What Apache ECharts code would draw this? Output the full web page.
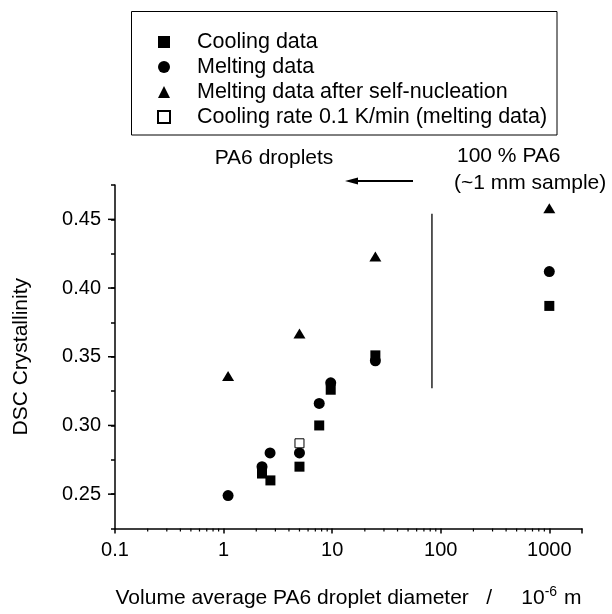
<!DOCTYPE html>
<html>
<head>
<meta charset="utf-8">
<script src="https://cdn.jsdelivr.net/npm/echarts@6/dist/echarts.min.js"></script>
<style>
html,body{margin:0;padding:0;background:#fff}
#chartDiv{width:612px;height:614px}
</style>
</head>
<body>
<div id="chartDiv"></div>
<script>
// data (diameter in 10^-6 m, DSC crystallinity)
var coolingX = [2.26, 2.7, 5, 7.6, 9.7, 25, 1000];
var coolingY = [0.265, 0.260, 0.270, 0.300, 0.326, 0.351, 0.387];
var meltingX = [1.1, 2.26, 2.68, 5, 7.6, 9.7, 25, 1000];
var meltingY = [0.249, 0.270, 0.280, 0.280, 0.316, 0.331, 0.347, 0.412];
var selfNucX = [1.1, 5, 25, 1000];
var selfNucY = [0.336, 0.367, 0.423, 0.458];
var slowX = [5];
var slowY = [0.287];
// vertical divider between droplets and bulk sample
var dividerX = [83, 83];
var dividerY = [0.327, 0.454];

var seriesNames = ['Cooling data', 'Melting data', 'Melting data after self-nucleation', 'Cooling rate 0.1 K/min (melting data)'];
var xMin = 0.1, xMax = 2000;
var yMin = 0.225, yMax = 0.475;
var xMinorTicks = [0.2,0.3,0.4,0.5,0.6,0.7,0.8,0.9, 2,3,4,5,6,7,8,9, 20,30,40,50,60,70,80,90, 200,300,400,500,600,700,800,900];
var yMajorTicks = [0.25, 0.30, 0.35, 0.40, 0.45];

var FONT = '"Liberation Sans", Arial, Helvetica, sans-serif';

function pairs(xs, ys){
	var out = [];
	for(var i = 0; i < xs.length; i++){ out.push([xs[i], ys[i]]); }
	return out;
}

var option = {
	animation: false,
	backgroundColor: '#fff',
	grid: {left: 115, right: 30, top: 185, bottom: 74},
	legend: {
		orient: 'vertical',
		left: 157,
		top: 31,
		padding: 0,
		itemGap: 3,
		itemWidth: 12,
		itemHeight: 12,
		selectedMode: false,
		textStyle: {fontSize: 21.5, color: '#000', fontFamily: FONT, padding: [0,0,0,22], lineHeight: 20},
		data: seriesNames
	},
	xAxis: {
		type: 'log',
		logBase: 10,
		min: xMin,
		max: xMax,
		splitLine: {show: false},
		axisLine: {lineStyle: {color: '#000', width: 1.5}},
		axisTick: {length: 5, lineStyle: {color: '#000', width: 1.5}},
		axisLabel: {
			color: '#000', fontSize: 20, fontFamily: FONT, margin: 12,
			formatter: function(v){
				var l = Math.log(v) / Math.LN10;
				if(Math.abs(l - Math.round(l)) > 1e-6) return '';
				return String(Math.round(v * 10) / 10);
			}
		},
		name: 'Volume average PA6 droplet diameter   /     10{sup|-6} m',
		nameLocation: 'middle',
		nameGap: 57,
		nameTextStyle: {
			color: '#000', fontSize: 21, fontFamily: FONT,
			rich: {sup: {fontSize: 14, fontFamily: FONT, color: '#000', padding: [0,1,12,0]}}
		}
	},
	yAxis: {
		type: 'value',
		min: yMin,
		max: yMax,
		interval: 0.025,
		splitLine: {show: false},
		axisLine: {lineStyle: {color: '#000', width: 1.5}},
		axisTick: {length: 4, lineStyle: {color: '#000', width: 1.5}},
		axisLabel: {
			color: '#000', fontSize: 20, fontFamily: FONT, margin: 14,
			formatter: function(v){
				if(Math.round(v * 1000) % 50 !== 0) return '';
				return v.toFixed(2);
			}
		},
		name: 'DSC Crystallinity',
		nameLocation: 'middle',
		nameGap: 83,
		nameTextStyle: {color: '#000', fontSize: 21, fontFamily: FONT}
	},
	series: [
		{
			name: seriesNames[0], type: 'scatter', symbol: 'rect', symbolSize: 10,
			itemStyle: {color: '#000', opacity: 1}, data: pairs(coolingX, coolingY), z: 3
		},
		{
			name: seriesNames[1], type: 'scatter', symbol: 'circle', symbolSize: 11,
			itemStyle: {color: '#000', opacity: 1}, data: pairs(meltingX, meltingY), z: 2
		},
		{
			name: seriesNames[2], type: 'scatter', symbol: 'triangle', symbolSize: [12, 10],
			itemStyle: {color: '#000', opacity: 1}, data: pairs(selfNucX, selfNucY)
		},
		{
			name: seriesNames[3], type: 'scatter', symbol: 'rect', symbolSize: 9,
			itemStyle: {color: '#fff', borderColor: '#000', borderWidth: 1, opacity: 1}, data: pairs(slowX, slowY), z: 4
		},
		{
			name: 'divider', type: 'line', symbol: 'none', silent: true,
			lineStyle: {color: '#000', width: 1.3}, data: pairs(dividerX, dividerY)
		},
		{
			// minor ticks of the log axis (2..9 of each decade)
			name: 'xMinor', type: 'custom', silent: true,
			data: xMinorTicks.map(function(v){ return [v, yMin]; }),
			renderItem: function(params, api){
				var p = api.coord([api.value(0), api.value(1)]);
				return {type: 'line', shape: {x1: p[0], y1: p[1], x2: p[0], y2: p[1] + 3},
					style: {stroke: '#000', lineWidth: 1.2}};
			}
		},
		{
			// longer ticks at labelled values of the y axis
			name: 'yMajor', type: 'custom', silent: true,
			data: yMajorTicks.map(function(v){ return [xMin, v]; }),
			renderItem: function(params, api){
				var p = api.coord([api.value(0), api.value(1)]);
				return {type: 'line', shape: {x1: p[0], y1: p[1], x2: p[0] - 7, y2: p[1]},
					style: {stroke: '#000', lineWidth: 1.5}};
			}
		}
	],
	graphic: [
		{type: 'rect', shape: {x: 131.5, y: 11.5, width: 425.5, height: 123.5},
			style: {fill: 'none', stroke: '#000', lineWidth: 1}, silent: true},
		{type: 'text', x: 274, y: 158,
			style: {text: 'PA6 droplets', font: '21px ' + FONT, fill: '#000', textAlign: 'center', textVerticalAlign: 'middle'}},
		{type: 'text', x: 457, y: 156,
			style: {text: '100 % PA6', font: '21px ' + FONT, fill: '#000', textAlign: 'left', textVerticalAlign: 'middle'}},
		{type: 'text', x: 454, y: 183,
			style: {text: '(~1 mm sample)', font: '21px ' + FONT, fill: '#000', textAlign: 'left', textVerticalAlign: 'middle'}},
		{type: 'line', shape: {x1: 355, y1: 181, x2: 413, y2: 181},
			style: {stroke: '#000', lineWidth: 2}, silent: true},
		{type: 'polygon', shape: {points: [[345, 181], [358, 177.5], [358, 184.5]]},
			style: {fill: '#000'}, silent: true}
	]
};

var myChart = echarts.init(document.getElementById('chartDiv'));
myChart.setOption(option, true);
</script>
</body>
</html>
